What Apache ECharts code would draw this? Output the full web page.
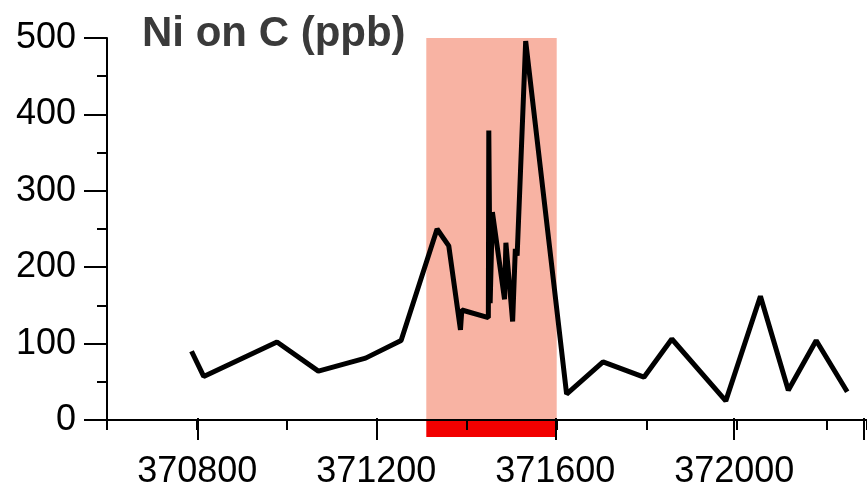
<!DOCTYPE html>
<html>
<head>
<meta charset="utf-8">
<script src="https://cdn.jsdelivr.net/npm/echarts@6/dist/echarts.min.js"></script>
<style>
  * { margin: 0; padding: 0; }
  body { background: #fff; }
</style>
</head>
<body>
<div id="chart" style="width: 867px;height: 490px;"></div>
<script>
  // depth along section and Ni on C (ppb)
  let depth = [370788, 370815, 370978, 371070, 371175, 371254, 371334, 371360, 371386, 371389,
    371448, 371449, 371452, 371457, 371484, 371487, 371502, 371508, 371512, 371531,
    371622, 371703, 371794, 371856, 371976, 372053, 372115, 372177, 372246]
  let niOnC = [90, 57, 102, 64, 81, 104, 250, 228, 118, 144,
    134, 379, 153, 272, 158, 232, 129, 224, 215, 496,
    34, 76, 56, 106, 25, 162, 39, 104, 37]
  // highlighted interval
  let zone = [371310, 371600]
  let yTicks = [0, 500, 100]
  let xRange = [370600, 372290]

  let font = 'Liberation Sans, Arial, sans-serif'
  let myChart = echarts.init(document.getElementById('chart'))

  myChart.setOption({
    animation: false,
    backgroundColor: '#fff',
    title: {
      text: 'Ni on C (ppb)',
      left: 137,
      top: 8,
      textStyle: {color: '#3a3a3a', fontSize: 42, fontWeight: 'bold', fontFamily: font}
    },
    grid: [
      {left: 107, right: -3, top: 38, bottom: 70},
      // second grid only carries the long labelled ticks, starting at 370800
      {left: 107 + (370800 - xRange[0]) * 760 / (372283.6 - xRange[0]), right: -3, top: 38, bottom: 70}
    ],
    xAxis: [
      {
        type: 'value', gridIndex: 0,
        min: xRange[0], max: xRange[1], interval: 200,
        axisLine: {show: true, lineStyle: {color: '#000', width: 2}},
        axisTick: {show: true, length: 10, lineStyle: {color: '#000', width: 2}},
        axisLabel: {show: false},
        splitLine: {show: false}
      },
      {
        type: 'value', gridIndex: 1,
        min: 370800, max: xRange[1], interval: 400,
        axisLine: {show: false},
        axisTick: {show: true, length: 22, lineStyle: {color: '#000', width: 2}},
        axisLabel: {
          show: true, margin: 36, color: '#000', fontSize: 36, fontFamily: font,
          formatter: function (v) { return v % 400 === 0 ? String(v) : '' }
        },
        splitLine: {show: false}
      }
    ],
    yAxis: [
      {
        type: 'value', gridIndex: 0,
        min: yTicks[0], max: yTicks[1], interval: yTicks[2],
        axisLine: {show: true, lineStyle: {color: '#000', width: 2}},
        axisTick: {show: true, length: 23, lineStyle: {color: '#000', width: 2}},
        minorTick: {show: true, splitNumber: 2, length: 10, lineStyle: {color: '#000', width: 2}},
        axisLabel: {margin: 31, color: '#000', fontSize: 36, fontFamily: font},
        splitLine: {show: false}
      },
      {type: 'value', gridIndex: 1, min: 0, max: 500, show: false}
    ],
    series: [
      {
        type: 'custom',
        xAxisIndex: 0, yAxisIndex: 0,
        clip: false,
        z: -1,
        data: [zone],
        renderItem: function (params, api) {
          let topLeft = api.coord([api.value(0), yTicks[1]])
          let bottomRight = api.coord([api.value(1), 0])
          return {
            type: 'group',
            children: [
              {
                type: 'rect',
                shape: {x: topLeft[0], y: topLeft[1], width: bottomRight[0] - topLeft[0], height: bottomRight[1] - topLeft[1]},
                style: {fill: '#f8b3a3'}
              },
              {
                type: 'rect',
                shape: {x: topLeft[0], y: bottomRight[1], width: bottomRight[0] - topLeft[0], height: 17},
                style: {fill: '#f20000'}
              }
            ]
          }
        }
      },
      {
        type: 'line',
        xAxisIndex: 0, yAxisIndex: 0,
        data: depth.map(function (d, i) { return [d, niOnC[i]] }),
        symbol: 'none',
        lineStyle: {color: '#000', width: 5}
      }
    ]
  })
</script>
</body>
</html>
